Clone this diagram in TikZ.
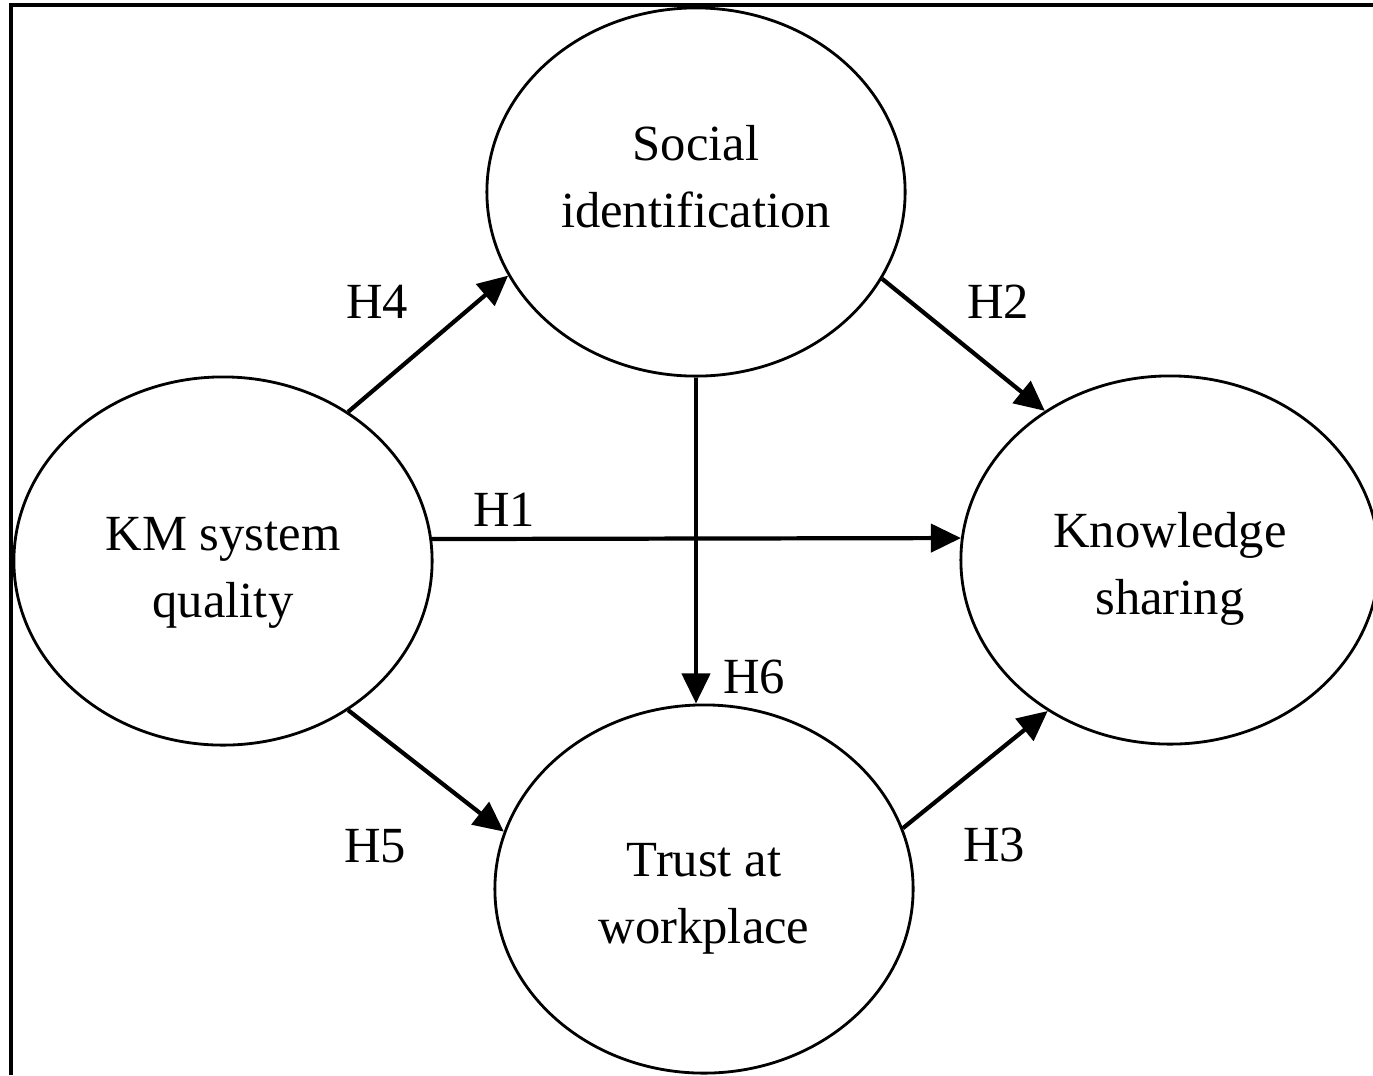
\documentclass[tikz,border=0pt]{standalone}
\usepackage{fontspec}
\setmainfont{Liberation Serif}
\usetikzlibrary{arrows.meta,positioning,shapes.geometric}

\tikzset{
  construct/.style={draw,ellipse,line width=0.8pt,minimum width=4.18cm,minimum height=3.68cm,inner sep=0pt},
  constructtext/.style={inner sep=0pt,align=center,font=\fontsize{14.4}{19}\selectfont},
  hyparrow/.style={-{Triangle[length=3mm,width=2.8mm]},line width=1.2pt},
  hyplabel/.style={inner sep=0pt,font=\fontsize{14.4}{17}\selectfont}
}

\begin{document}
\begin{tikzpicture}[x=0.01cm,y=-0.01cm]
    \useasboundingbox (0,0) rectangle (1373,1075);
    % frame, only the top and left edges are inside the page
    \draw[line width=0.9pt] (11,1075) -- (11,5) -- (1373,5);

    \node[construct] (km)    at (223,561)  {};
    \node[construct] (soc)   at (696,192)  {};
    \node[construct] (trust) at (704,889)  {};
    \node[construct] (kno)   at (1170,560) {};

    % the names sit a little off the centres
    \node[constructtext,yshift=-0.12cm] (kmtext)    at (km)    {KM system\\quality};
    \node[constructtext,yshift=0.15cm]  (soctext)   at (soc)   {Social\\identification};
    \node[constructtext,yshift=-0.10cm] (trusttext) at (trust) {Trust at\\workplace};
    \node[constructtext,yshift=-0.09cm] (knotext)   at (kno)   {Knowledge\\sharing};

    \draw[hyparrow] (km.6)    -- (kno.174);
    \draw[hyparrow] (soc.-25) -- (kno.130);
    \draw[hyparrow] (trust.17) -- (kno.231);
    \draw[hyparrow] (km.50)   -- (soc.204);
    \draw[hyparrow] (km.-50)  -- (trust.164);
    \draw[hyparrow] (soc.south) -- (soc.south |- trust.north);

    \node[hyplabel] (h1) at (504,510) {H1};
    \node[hyplabel] (h2) at (998,302) {H2};
    \node[hyplabel] (h3) at (994,845) {H3};
    \node[hyplabel] (h4) at (377,302) {H4};
    \node[hyplabel] (h5) at (375,846) {H5};
    \node[hyplabel] (h6) at (754,677) {H6};
\end{tikzpicture}
\end{document}
